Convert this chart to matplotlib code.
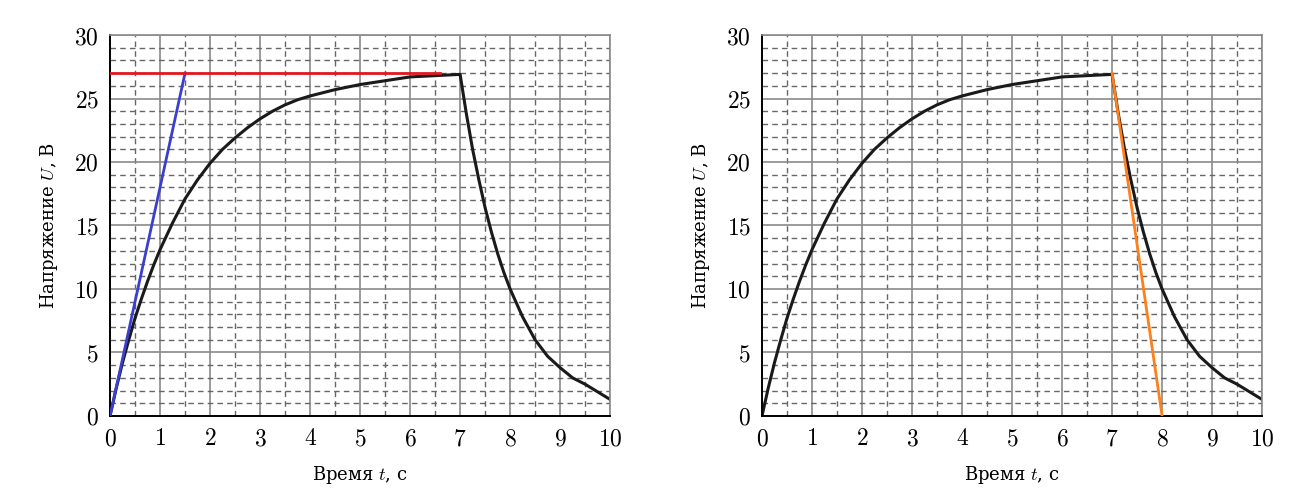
import matplotlib
matplotlib.use("Agg")
import matplotlib.pyplot as plt
import numpy as np

plt.rcParams.update({
    "font.family": "DejaVu Serif",
    "mathtext.fontset": "cm",
    "font.size": 13,
})

# curve
t_curve = [0, 0.125, 0.25, 0.375, 0.5, 0.625, 0.75, 0.875, 1.0, 1.25, 1.5,
           1.75, 2.0, 2.25, 2.5, 2.75, 3.0, 3.25, 3.5, 3.75, 4.0, 4.5, 5.0,
           5.5, 6.0, 6.5, 7.0, 7.125, 7.25, 7.375, 7.5, 7.625, 7.75, 7.875,
           8.0, 8.25, 8.5, 8.75, 9.0, 9.25, 9.5, 9.75, 10.0]
u_curve = [0, 2.2, 4.2, 6.0, 7.7, 9.2, 10.6, 11.9, 13.1, 15.2, 17.1,
           18.6, 19.9, 21.0, 21.9, 22.7, 23.4, 24.0, 24.5, 24.9, 25.2, 25.7,
           26.1, 26.4, 26.7, 26.8, 26.9, 23.8, 21.0, 18.6, 16.4, 14.5, 12.8,
           11.3, 10.0, 7.8, 6.0, 4.7, 3.8, 3.0, 2.5, 1.9, 1.3]

# tangent lines
blue_t = [0, 1.5]
blue_u = [0, 27]
red_t = [0, 6.6]
red_u = [27, 27]
orange_t = [7, 8]
orange_u = [27, 0]

xticks = list(range(0, 11))
yticks = list(range(0, 31, 5))

fig = plt.figure(figsize=(12.99, 4.98), dpi=100)
ax1 = fig.add_axes([0.0847, 0.1647, 0.385, 0.765])
ax2 = fig.add_axes([0.5866, 0.1647, 0.385, 0.765])


def style_axes(ax):
    ax.set_xlim(0, 10)
    ax.set_ylim(0, 30)
    ax.set_xticks(xticks)
    ax.set_yticks(yticks)
    ax.set_xticks(np.arange(0.5, 10, 1), minor=True)
    ax.set_yticks([v for v in range(1, 30) if v % 5], minor=True)
    ax.set_xticklabels([f"${v}$" for v in xticks], fontsize=17)
    ax.set_yticklabels([f"${v}$" for v in yticks], fontsize=17)
    ax.tick_params(which="both", length=0, pad=8)
    ax.grid(which="major", color="#8a8a8a", linewidth=1.2, linestyle="-")
    ax.grid(which="minor", color="#666666", linewidth=1.0,
            linestyle=(0, (4, 3)))
    ax.set_axisbelow(True)
    for s in ["left", "bottom"]:
        ax.spines[s].set_color("black")
        ax.spines[s].set_linewidth(1.4)
    for s in ["top", "right"]:
        ax.spines[s].set_color("#8a8a8a")
        ax.spines[s].set_linewidth(1.2)
    ax.set_xlabel("Время $t$, с", fontsize=13, labelpad=10)
    ax.set_ylabel("Напряжение $U$, В", fontsize=13, labelpad=10)


style_axes(ax1)
style_axes(ax2)

ax1.plot(blue_t, blue_u, color="#3b3fd0", linewidth=2, zorder=3)
ax1.plot(red_t, red_u, color="#e0191f", linewidth=2, zorder=3)
ax1.plot(t_curve, u_curve, color="#1a1a1a", linewidth=2.2, zorder=2)

ax2.plot(t_curve, u_curve, color="#1a1a1a", linewidth=2.2, zorder=2)
ax2.plot(orange_t, orange_u, color="#ff7f1a", linewidth=2, zorder=3)

fig.savefig("out.png", dpi=100)
